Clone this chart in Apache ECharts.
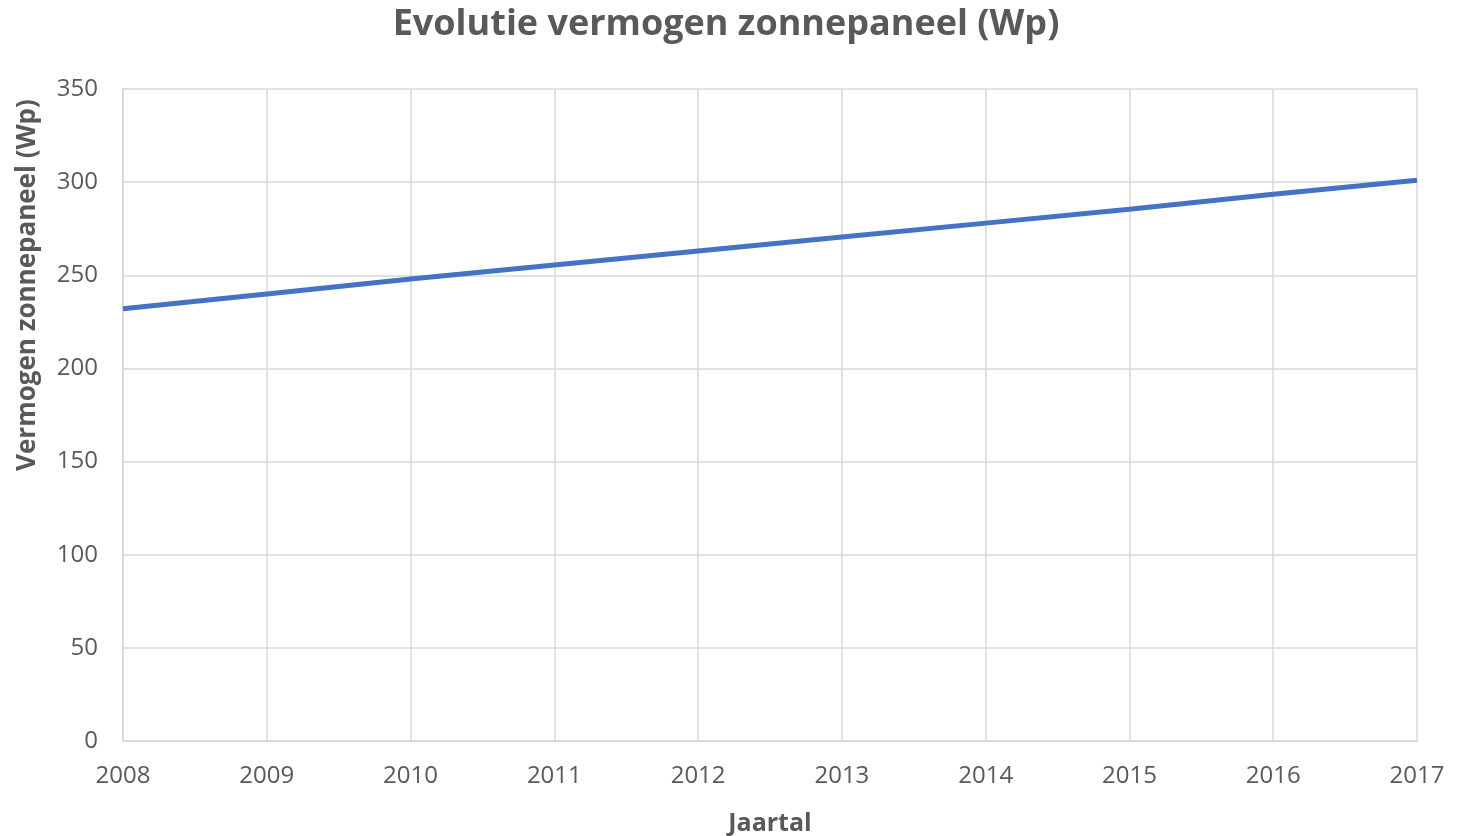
<!DOCTYPE html>
<html>
<head>
<meta charset="utf-8">
<script src="https://cdn.jsdelivr.net/npm/echarts@6/dist/echarts.min.js"></script>
<style>
  html, body { margin: 0; padding: 0; background: #fff; }
  #chart { width: 1473px; height: 836px; }
</style>
</head>
<body>
<div id="chart"></div>
<script>
const years = ['2008', '2009', '2010', '2011', '2012', '2013', '2014', '2015', '2016', '2017']
const vermogen = [232, 240, 248, 255.5, 263, 270.5, 278, 285.5, 293.5, 301]

const FONT = '"Open Sans", sans-serif'
const TEXT_GREY = '#595959'
const GRID_GREY = '#d9d9d9'

const chart = echarts.init(document.getElementById('chart'))
const option = {
  backgroundColor: '#fff',
  title: {
    text: 'Evolutie vermogen zonnepaneel (Wp)',
    left: 721,
    textAlign: 'center',
    top: 2,
    textStyle: {
      fontFamily: FONT,
      fontSize: 36,
      fontWeight: 'bold',
      color: TEXT_GREY
    }
  },
  grid: {
    left: 123,
    right: 56,
    top: 89,
    bottom: 95,
    outerBoundsMode: 'none'
  },
  xAxis: {
    type: 'category',
    data: years,
    boundaryGap: false,
    name: 'Jaartal',
    nameLocation: 'middle',
    nameGap: 70,
    nameTextStyle: {
      fontFamily: FONT,
      fontSize: 25,
      fontWeight: 'bold',
      color: TEXT_GREY
    },
    axisLine: { lineStyle: { color: GRID_GREY, width: 2 } },
    axisTick: { show: false },
    axisLabel: {
      fontFamily: FONT,
      fontSize: 24,
      color: TEXT_GREY,
      margin: 23
    },
    splitLine: { show: true, lineStyle: { color: GRID_GREY, width: 1.5 } }
  },
  yAxis: {
    type: 'value',
    min: 0,
    max: 350,
    interval: 50,
    name: 'Vermogen zonnepaneel (Wp)',
    nameLocation: 'middle',
    nameGap: 82,
    nameTextStyle: {
      fontFamily: FONT,
      fontSize: 26,
      fontWeight: 'bold',
      color: TEXT_GREY,
      padding: [0, 0, 0, 260]
    },
    axisLine: { show: true, lineStyle: { color: GRID_GREY, width: 2 } },
    axisTick: { show: false },
    axisLabel: {
      fontFamily: FONT,
      fontSize: 24,
      color: TEXT_GREY,
      margin: 25
    },
    splitLine: { show: true, lineStyle: { color: GRID_GREY, width: 1.5 } }
  },
  series: [{
    name: 'Vermogen',
    type: 'line',
    data: vermogen,
    symbol: 'none',
    lineStyle: { color: '#4472C4', width: 5 },
    itemStyle: { color: '#4472C4' }
  }]
}
chart.setOption(option)
</script>
</body>
</html>
